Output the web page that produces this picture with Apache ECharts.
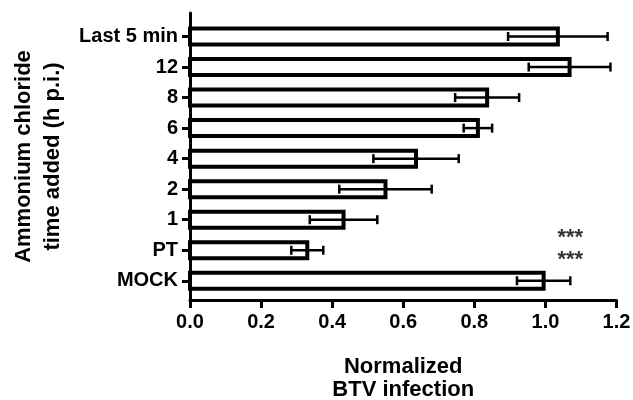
<!DOCTYPE html>
<html><head><meta charset="utf-8">
<script src="https://cdn.jsdelivr.net/npm/echarts@6/dist/echarts.min.js"></script>
<style>html,body{margin:0;padding:0;background:#fff}#c{width:633px;height:400px}</style>
</head><body><div id="c"></div>
<script>
const categories = ['MOCK','PT','1','2','4','6','8','12','Last 5 min'];
const means = [0.995, 0.330, 0.432, 0.550, 0.636, 0.810, 0.836, 1.068, 1.035];
const errs = [0.075, 0.045, 0.095, 0.130, 0.120, 0.040, 0.090, 0.115, 0.140];
const xTicks = [0, 0.2, 0.4, 0.6, 0.8, 1.0, 1.2];
const stars = [[1.07, 1.50, '***'], [1.07, 0.78, '***']];

const FONT = '"Liberation Sans", Arial, Helvetica, sans-serif';
const idx = categories.map((_, i) => i);

const chart = echarts.init(document.getElementById('c'), null, {renderer: 'canvas'});
chart.setOption({
  animation: false,
  backgroundColor: '#fff',
  grid: {left: 190, right: 16.5, top: 13, bottom: 100, containLabel: false, outerBoundsMode: 'none'},
  xAxis: {
    type: 'value', min: 0, max: 1.2, interval: 0.2,
    axisLine: {onZero: false, lineStyle: {color: '#000', width: 3}},
    axisTick: {show: true, length: 8, lineStyle: {color: '#000', width: 3}},
    axisLabel: {color: '#000', fontFamily: FONT, fontWeight: 'bold', fontSize: 20, margin: 12,
      formatter: v => v.toFixed(1)},
    splitLine: {show: false},
    name: 'Normalized\nBTV infection', nameLocation: 'middle', nameGap: 55,
    nameTextStyle: {color: '#000', fontFamily: FONT, fontWeight: 'bold', fontSize: 22, lineHeight: 23}
  },
  yAxis: {
    type: 'value', min: -0.63, max: 8.77,
    axisLine: {onZero: false, lineStyle: {color: '#000', width: 3}},
    axisTick: {show: true, length: 8, customValues: idx, lineStyle: {color: '#000', width: 3}},
    axisLabel: {show: true, customValues: idx, color: '#000', fontFamily: FONT, fontWeight: 'bold', fontSize: 20, margin: 12,
      formatter: v => categories[Math.round(v)]},
    splitLine: {show: false},
    name: 'Ammonium chloride\ntime added (h p.i.)', nameLocation: 'middle', nameGap: 123, nameRotate: 90,
    nameTextStyle: {color: '#000', fontFamily: FONT, fontWeight: 'bold', fontSize: 22, lineHeight: 29}
  },
  series: [
    {
      type: 'custom', name: 'bars', z: 2,
      data: means.map((m, i) => [i, m]),
      encode: {x: 1, y: 0},
      renderItem: function (params, api) {
        const i = api.value(0), m = api.value(1);
        const p0 = api.coord([0, i]);
        const p1 = api.coord([m, i]);
        const h = 16;
        return {type: 'rect', shape: {x: p0[0], y: p0[1] - h / 2, width: p1[0] - p0[0], height: h},
          style: {fill: '#fff', stroke: '#000', lineWidth: 4}};
      }
    },
    {
      type: 'custom', name: 'err', z: 3,
      data: means.map((m, i) => [i, m - errs[i], m + errs[i]]),
      encode: {x: [1, 2], y: 0},
      renderItem: function (params, api) {
        const i = api.value(0);
        const lo = api.coord([api.value(1), i]);
        const hi = api.coord([api.value(2), i]);
        const c = 4.5;
        const st = {stroke: '#000', lineWidth: 2.5};
        return {type: 'group', children: [
          {type: 'line', shape: {x1: lo[0], y1: lo[1], x2: hi[0], y2: hi[1]}, style: st},
          {type: 'line', shape: {x1: lo[0], y1: lo[1] - c, x2: lo[0], y2: lo[1] + c}, style: st},
          {type: 'line', shape: {x1: hi[0], y1: hi[1] - c, x2: hi[0], y2: hi[1] + c}, style: st}
        ]};
      }
    },
    {
      type: 'scatter', name: 'sig', z: 4, symbolSize: 0,
      data: stars.map(s => ({value: [s[0], s[1]], label: {formatter: s[2]}})),
      label: {show: true, position: 'inside', color: '#000', fontFamily: FONT, fontWeight: 'bold', fontSize: 22, offset: [0, 3]}
    }
  ]
});
</script></body></html>
